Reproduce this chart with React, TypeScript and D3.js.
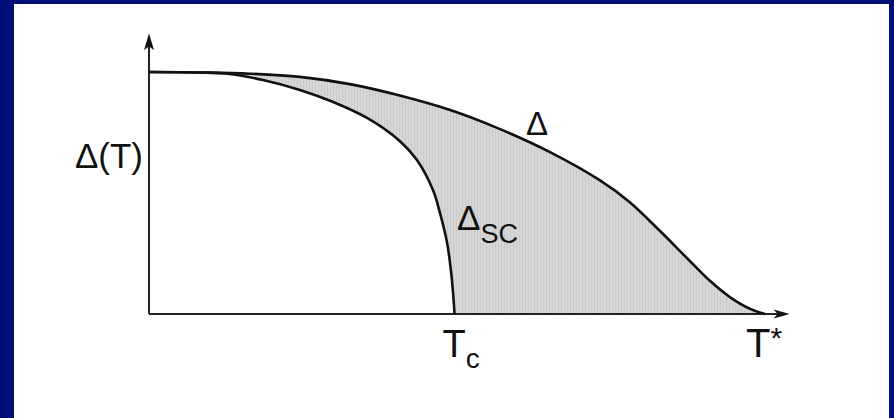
import React from "react";
import * as d3 from "d3";

// Temperature in units of T*, gap in units of Δ(0)
const gapT = [0, 0.083, 0.164, 0.245, 0.326, 0.407, 0.489, 0.57, 0.651, 0.731, 0.78, 0.828, 0.878, 0.911, 0.943, 0.976, 1];
const gapValues = [1, 0.998, 0.993, 0.98, 0.95, 0.903, 0.843, 0.764, 0.669, 0.554, 0.463, 0.347, 0.219, 0.136, 0.07, 0.021, 0];

const scT = [0, 0.083, 0.131, 0.185, 0.245, 0.299, 0.354, 0.407, 0.435, 0.461, 0.472, 0.484, 0.49, 0.4935, 0.496];
const scValues = [1, 0.998, 0.992, 0.967, 0.926, 0.876, 0.81, 0.715, 0.636, 0.512, 0.421, 0.293, 0.182, 0.091, 0];

const Tc = 0.496;
const Tstar = 1;

const W = 894;
const H = 418;
const NAVY = "#000e78";
const FONT = "'Liberation Sans', Arial, Helvetica, sans-serif";

export default function App() {
  const x = d3.scaleLinear().domain([0, 1]).range([149, 765]);
  const y = d3.scaleLinear().domain([0, 1]).range([314, 72]);

  const gap = gapT.map((t, i) => [t, gapValues[i]] as [number, number]);
  const sc = scT.map((t, i) => [t, scValues[i]] as [number, number]);

  const curve = d3.curveCatmullRom.alpha(0.5);
  const line = d3.line<[number, number]>().x(d => x(d[0])).y(d => y(d[1])).curve(curve);
  const area = d3.area<[number, number]>().x(d => x(d[0])).y0(y(0)).y1(d => y(d[1])).curve(curve);

  const x0 = x(0);
  const y0 = y(0);
  const xEnd = x(1.04);
  const yTop = y(1.16);

  return (
    <svg width={W} height={H} style={{ position: "absolute", left: 0, top: 0, display: "block" }} fontFamily={FONT}>
      <defs>
        <pattern id="shade" width="3" height="4" patternUnits="userSpaceOnUse">
          <rect width="3" height="4" fill="#d7d7d7" />
          <rect width="1" height="4" fill="#cacaca" />
        </pattern>
      </defs>
      <rect width={W} height={H} fill={NAVY} />
      <rect x={14} y={4} width={875} height={H - 4} fill="#ffffff" />

      {/* shaded region between Δ and Δ_SC */}
      <path d={area(gap) ?? ""} fill="url(#shade)" />
      <path d={area(sc) ?? ""} fill="#ffffff" />

      {/* axes */}
      <line x1={x0} y1={y0} x2={x0} y2={yTop + 6} stroke="#222" strokeWidth={2} />
      <line x1={x0} y1={y0} x2={xEnd - 6} y2={y0} stroke="#222" strokeWidth={2} />
      <path d={`M${x0},${yTop} L${x0 - 5},${yTop + 17} L${x0},${yTop + 13} L${x0 + 5},${yTop + 17} Z`} fill="#111" />
      <path d={`M${xEnd},${y0} L${xEnd - 16},${y0 - 4.5} L${xEnd - 12},${y0} L${xEnd - 16},${y0 + 4.5} Z`} fill="#111" />

      {/* curves */}
      <path d={line(gap) ?? ""} fill="none" stroke="#111" strokeWidth={2.6} />
      <path d={line(sc) ?? ""} fill="none" stroke="#111" strokeWidth={2.6} />

      {/* labels */}
      <text x={x0 - 6} y={168} fontSize={35} textAnchor="end" fill="#111">Δ(T)</text>
      <text x={537} y={135} fontSize={33} textAnchor="middle" fill="#111">Δ</text>
      <text x={457} y={230} fontSize={35} fill="#111">
        Δ<tspan fontSize={27} dy={13}>SC</tspan>
      </text>
      <text x={x(Tc) - 12} y={357} fontSize={38} fill="#111">
        T<tspan fontSize={28} dy={11}>c</tspan>
      </text>
      <text x={x(Tstar) - 19} y={357} fontSize={40} fill="#111">
        T<tspan fontSize={30} dy={-9}>*</tspan>
      </text>
    </svg>
  );
}
